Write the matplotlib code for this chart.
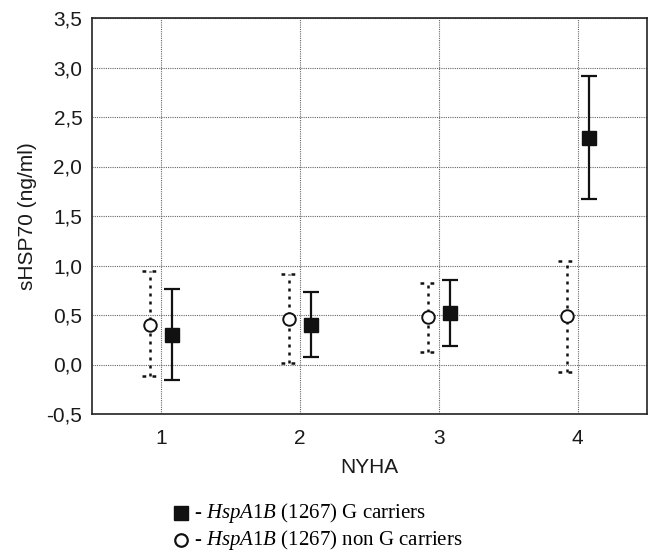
import matplotlib
matplotlib.use("Agg")
import matplotlib.pyplot as plt
from matplotlib.ticker import FuncFormatter
import numpy as np

plt.rcParams['font.family'] = ['Liberation Sans', 'DejaVu Sans']
plt.rcParams['mathtext.fontset'] = 'custom'
plt.rcParams['mathtext.rm'] = 'Liberation Serif'
plt.rcParams['mathtext.it'] = 'Liberation Serif:italic'

nyha = [1, 2, 3, 4]
# G carriers (filled squares)
g_mean = [0.30, 0.40, 0.52, 2.29]
g_low = [-0.16, 0.08, 0.19, 1.67]
g_high = [0.76, 0.73, 0.85, 2.91]
# non G carriers (open circles)
ng_mean = [0.40, 0.46, 0.48, 0.49]
ng_low = [-0.12, 0.02, 0.13, -0.08]
ng_high = [0.94, 0.91, 0.82, 1.05]

yticks = [-0.5, 0.0, 0.5, 1.0, 1.5, 2.0, 2.5, 3.0, 3.5]

fig = plt.figure(figsize=(6.49, 5.55), dpi=100)
ax = fig.add_axes([92/649, 1-414/555, (647-92)/649, (414-18)/555])

x = np.array(nyha, dtype=float)
off = 0.08
capw = 0.058
ink = '#111111'

# non G carriers: dotted error bars with dotted caps
xn = x - off
ax.vlines(xn, ng_low, ng_high, colors=ink, linewidth=1.8,
          linestyles=[(0, (1.2, 2.0))], zorder=3)
ax.hlines(ng_low, xn - capw, xn + capw, colors=ink, linewidth=1.8,
          linestyles=[(0, (1.5, 2.5))], zorder=3)
ax.hlines(ng_high, xn - capw, xn + capw, colors=ink, linewidth=1.8,
          linestyles=[(0, (1.5, 2.5))], zorder=3)
ax.plot(xn, ng_mean, linestyle='none', marker='o', mfc='white', mec=ink,
        ms=9, mew=1.4, zorder=4)

# G carriers: solid error bars
xg = x + off
g_mean_a = np.array(g_mean)
ax.errorbar(xg, g_mean_a,
            yerr=[g_mean_a - np.array(g_low), np.array(g_high) - g_mean_a],
            fmt='s', mfc=ink, mec=ink, ms=9.5,
            ecolor=ink, elinewidth=1.6, capsize=5.8, capthick=1.6, zorder=4)

ax.set_xlim(0.5, 4.5)
ax.set_ylim(-0.5, 3.5)
ax.set_xticks(nyha)
ax.set_xticklabels([str(v) for v in nyha])
ax.set_yticks(yticks)
ax.yaxis.set_major_formatter(FuncFormatter(lambda v, p: f"{v:.1f}".replace('.', ',')))
ax.tick_params(axis='both', length=0, labelsize=15, colors='#1a1a1a')
ax.tick_params(axis='y', pad=7)
ax.tick_params(axis='x', pad=11)
ax.grid(True, color='#666666', linestyle=(0, (1, 1)), linewidth=0.8)
ax.set_axisbelow(True)
for s in ax.spines.values():
    s.set_color('#222222')
    s.set_linewidth(1.2)

ax.set_xlabel('NYHA', fontsize=15, color='#1a1a1a')
ax.set_ylabel('sHSP70 (ng/ml)', fontsize=15, color='#1a1a1a')
ax.xaxis.set_label_coords(0.5, (414-458)/396)
ax.yaxis.set_label_coords((37-92)/555, 0.5)

# legend below
fig.lines.append(plt.Line2D([181/649], [1-513/555], marker='s', ms=9.5, color=ink,
                            transform=fig.transFigure, figure=fig))
fig.lines.append(plt.Line2D([181/649], [1-540/555], marker='o', ms=9, mfc='white',
                            mec=ink, mew=1.6, color=ink,
                            transform=fig.transFigure, figure=fig))
fig.text(194/649, 1-513/555, r"- $\mathit{HspA1B}$ (1267) G carriers",
         family='Liberation Serif', fontsize=15, va='center', ha='left')
fig.text(194/649, 1-540/555, r"- $\mathit{HspA1B}$ (1267) non G carriers",
         family='Liberation Serif', fontsize=15, va='center', ha='left')

fig.savefig('out.png', dpi=100)
